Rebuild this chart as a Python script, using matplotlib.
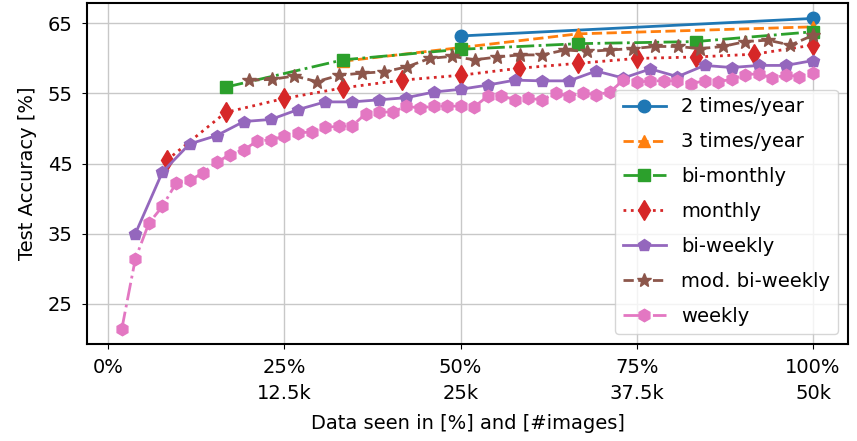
import matplotlib
matplotlib.use("Agg")
import matplotlib.pyplot as plt
import numpy as np

plt.rcParams['font.family'] = ['DejaVu Sans']

# Datos (x en % de datos vistos, y = accuracy en %)
x_2y = [50, 100]
acc_2y = [63.2, 65.7]

x_3y = [100 / 3, 200 / 3, 100]
acc_3y = [59.6, 63.5, 64.5]

x_bimonthly = np.arange(1, 7) * 100 / 6
acc_bimonthly = [55.9, 59.8, 61.3, 62.1, 62.4, 63.8]

x_monthly = np.arange(1, 13) * 100 / 12
acc_monthly = [45.5, 52.3, 54.3, 55.8, 56.9, 57.6, 58.6, 59.3, 60.0, 60.2, 60.6, 61.9]

x_biweekly = np.arange(1, 27) * 100 / 26
acc_biweekly = [35.0, 43.8, 47.8, 49.0, 51.0, 51.3, 52.7, 53.8, 53.8, 54.1,
                54.4, 55.2, 55.6, 56.2, 56.9, 56.8, 56.8, 58.2, 57.2, 58.5,
                57.4, 59.0, 58.7, 59.0, 59.0, 59.7]

x_modbiweekly = np.linspace(20, 100, 26)
acc_modbiweekly = [56.9, 57.0, 57.5, 56.7, 57.6, 57.9, 58.1, 58.8, 60.0, 60.3,
                   59.8, 60.2, 60.5, 60.5, 61.2, 61.0, 61.2, 61.4, 61.7, 61.7,
                   61.4, 61.7, 62.4, 62.6, 61.9, 63.3]

x_weekly = np.arange(1, 53) * 100 / 52
acc_weekly = [21.4, 31.4, 36.5, 38.9, 42.2, 42.6, 43.7, 45.2, 46.3, 47.0,
              48.2, 48.4, 48.9, 49.4, 49.5, 50.2, 50.3, 50.4, 52.1, 52.3,
              52.4, 53.2, 52.9, 53.2, 53.2, 53.2, 53.1, 54.6, 54.7, 54.1,
              54.3, 54.1, 55.1, 54.6, 55.1, 54.8, 55.2, 56.9, 56.6, 56.8,
              56.8, 56.8, 56.4, 56.8, 56.7, 57.0, 57.7, 57.8, 57.2, 57.6,
              57.4, 57.9]

xticks = [0, 25, 50, 75, 100]
xtick_labels = ['0%', '25%\n12.5k', '50%\n25k', '75%\n37.5k', '100%\n50k']
yticks = [25, 35, 45, 55, 65]

fig, ax = plt.subplots(figsize=(8.57, 4.41), dpi=100)
plt.subplots_adjust(left=0.102, right=0.989, top=0.994, bottom=0.221)

ms = 9
lw = 2
ax.plot(x_2y, acc_2y, color='tab:blue', linestyle='-', marker='o', ms=ms, lw=lw, label='2 times/year')
ax.plot(x_3y, acc_3y, color='tab:orange', linestyle='--', marker='^', ms=ms, lw=lw, label='3 times/year')
ax.plot(x_bimonthly, acc_bimonthly, color='tab:green', linestyle='-.', marker='s', ms=ms, lw=lw, label='bi-monthly')
ax.plot(x_monthly, acc_monthly, color='tab:red', linestyle=':', marker='d', ms=10.5, lw=lw, label='monthly')
ax.plot(x_biweekly, acc_biweekly, color='tab:purple', linestyle='-', marker='p', ms=ms, lw=lw, label='bi-weekly')
ax.plot(x_modbiweekly, acc_modbiweekly, color='tab:brown', linestyle='--', marker='*', ms=10.5, lw=lw, label='mod. bi-weekly')
ax.plot(x_weekly, acc_weekly, color='tab:pink', linestyle='-.', marker='h', ms=ms, lw=lw, label='weekly')

ax.set_xlim(-2.95, 104.9)
ax.set_ylim(19.35, 67.95)
ax.set_xticks(xticks)
ax.set_xticklabels(xtick_labels, linespacing=1.45)
ax.set_yticks(yticks)
ax.tick_params(labelsize=14, pad=7)
ax.grid(True, color='#c8c8c8', linewidth=1)
for s in ax.spines.values():
    s.set_linewidth(1.5)

ax.set_xlabel('Data seen in [%] and [#images]', fontsize=14, labelpad=8)
ax.set_ylabel('Test Accuracy [%]', fontsize=14, labelpad=8)
ax.legend(loc='lower right', fontsize=14, labelspacing=0.82, handlelength=2.2)

plt.savefig('out.png', dpi=100)
